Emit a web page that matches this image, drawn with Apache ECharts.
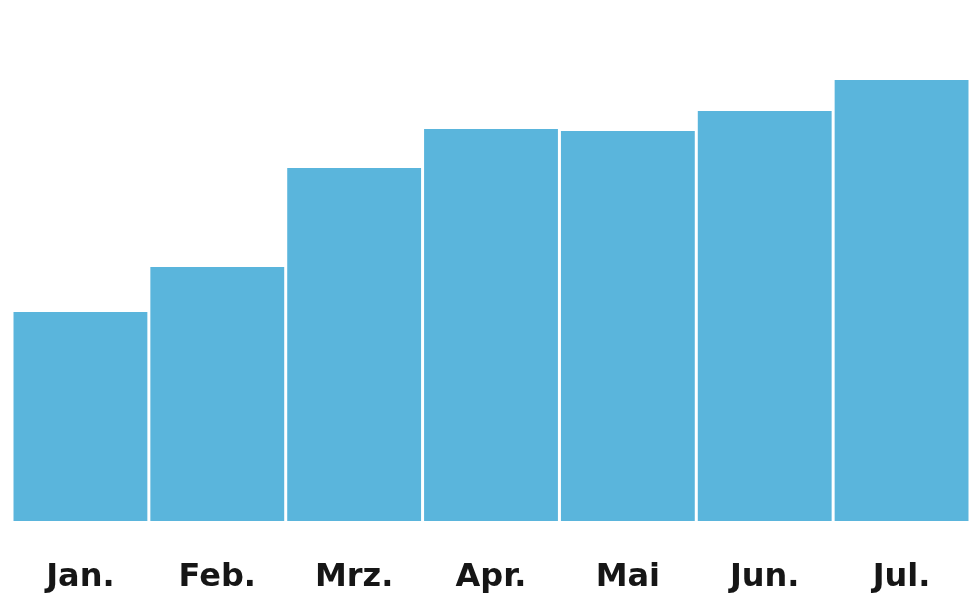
<!DOCTYPE html>
<html>
<head>
<meta charset="utf-8">
<script src="https://cdn.jsdelivr.net/npm/echarts@6/dist/echarts.min.js"></script>
<style>
  html, body { margin: 0; padding: 0; background: #fff; }
  #main { width: 972px; height: 597px; }
</style>
</head>
<body>
<div id="main"></div>
<script>
// Monate und Werte (beliebige Einheit)
const months = ['Jan.', 'Feb.', 'Mrz.', 'Apr.', 'Mai', 'Jun.', 'Jul.'];
const values = [209, 254, 353, 392, 390, 410, 441];

const chart = echarts.init(document.getElementById('main'));

chart.setOption({
  animation: false,
  grid: { left: 12, right: 2, top: 0, bottom: 76 },
  xAxis: {
    type: 'category',
    data: months,
    axisLine: { show: false },
    axisTick: { show: false },
    axisLabel: {
      color: '#161616',
      fontFamily: 'DejaVu Sans',
      fontWeight: 'bold',
      fontSize: 32,
      margin: 41
    }
  },
  yAxis: {
    type: 'value',
    min: 0,
    max: 521,
    show: false
  },
  series: [{
    type: 'bar',
    data: values,
    barCategoryGap: '2.2%',
    itemStyle: { color: '#5AB5DC' }
  }]
});
</script>
</body>
</html>
